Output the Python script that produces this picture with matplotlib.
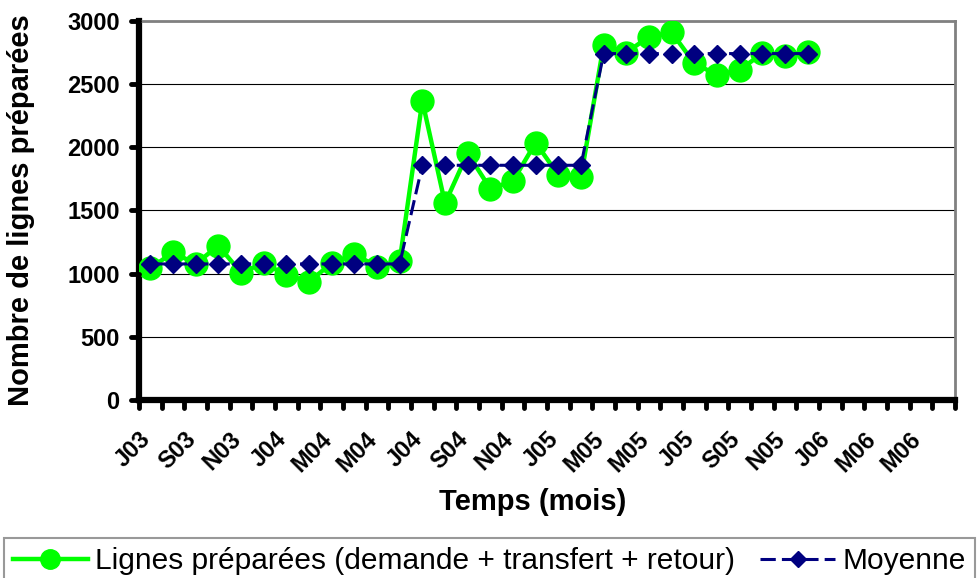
import matplotlib
matplotlib.use('Agg')
import matplotlib.pyplot as plt

plt.rcParams['font.family'] = ['Liberation Sans', 'DejaVu Sans']

# tick labels, one every two months (July 2003 -> May 2006)
tick_labels = ['J03', 'S03', 'N03', 'J04', 'M04', 'M04', 'J04', 'S04', 'N04',
               'J05', 'M05', 'M05', 'J05', 'S05', 'N05', 'J06', 'M06', 'M06']
n_months = 36

# monthly values, July 2003 -> December 2005
lignes = [1042, 1169, 1077, 1222, 1008, 1082, 990, 937, 1082, 1156, 1055, 1100,
          2367, 1557, 1953, 1672, 1734, 2037, 1781, 1768,
          2810, 2750, 2876, 2910, 2665, 2573, 2612, 2744, 2723, 2757]
moyenne = [1077] * 12 + [1858] * 8 + [2742] * 10

x = list(range(len(lignes)))

fig = plt.figure(figsize=(9.77, 5.78), dpi=100)
ax = fig.add_axes([139 / 977, 1 - 400 / 578, 816 / 977, 379 / 578])

ax.plot(x, lignes, color='#00FF00', lw=3.2, marker='o', ms=16.5,
        mfc='#00FF00', mec='#00FF00', zorder=3,
        label='Lignes préparées (demande + transfert + retour)')
ax.plot(x, moyenne, color='#000080', lw=2.2, ls=(0, (5, 2)), marker='D', ms=9,
        mfc='#000080', mec='#000080', zorder=4, label='Moyenne')

ax.set_xlim(-0.5, n_months - 0.5)
ax.set_ylim(0, 3000)
yticks = list(range(0, 3001, 500))
ax.set_yticks(yticks)
ax.yaxis.grid(True, color='black', lw=0.8)
ax.set_axisbelow(True)

# ticks between months, a label every two months
bounds = [i - 0.5 for i in range(n_months + 1)]
labels = []
for i in range(n_months + 1):
    labels.append(tick_labels[i // 2] if i % 2 == 0 and i // 2 < len(tick_labels) else '')
ax.set_xticks(bounds)
ax.set_xticklabels(labels)
ax.tick_params(axis='x', length=0, pad=20, labelsize=17)
ax.tick_params(axis='y', length=0, pad=14, labelsize=17)
for t in ax.get_xticklabels():
    t.set_rotation(45)
    t.set_ha('right')
    t.set_va('top')
    t.set_rotation_mode('anchor')
    t.set_fontweight('bold')
for t in ax.get_yticklabels():
    t.set_fontweight('bold')

# tick marks with round ends, drawn by hand
for b in bounds:
    ax.plot([b, b], [0, -8 / 379], transform=ax.get_xaxis_transform(),
            color='black', lw=3.5, solid_capstyle='round', clip_on=False, zorder=6)
for v in yticks:
    ax.plot([0, -8 / 816], [v, v], transform=ax.get_yaxis_transform(),
            color='black', lw=3.5, solid_capstyle='round', clip_on=False, zorder=6)

for s in ['left', 'bottom']:
    ax.spines[s].set_linewidth(4.5)
    ax.spines[s].set_color('black')
for s in ['top', 'right']:
    ax.spines[s].set_linewidth(2)
    ax.spines[s].set_color('#808080')

ax.set_ylabel('Nombre de lignes préparées', fontsize=21, fontweight='bold')
ax.yaxis.set_label_coords(-0.127, 0.5)
ax.set_xlabel('Temps (mois)', fontsize=21, fontweight='bold')
ax.xaxis.set_label_coords(0.482, -0.232)

leg = fig.legend(loc='upper left', bbox_to_anchor=(4 / 977, 1 - 538 / 578),
                 ncol=2, fontsize=21.5, frameon=True, fancybox=False,
                 edgecolor='#808080', borderaxespad=0, borderpad=0.3,
                 handlelength=2.5, handletextpad=0.25, columnspacing=0.85)
leg.get_frame().set_linewidth(1.5)
leg.legend_handles[0].set_markersize(14)
leg.legend_handles[1].set_markersize(8.5)

fig.savefig('out.png', dpi=100)
